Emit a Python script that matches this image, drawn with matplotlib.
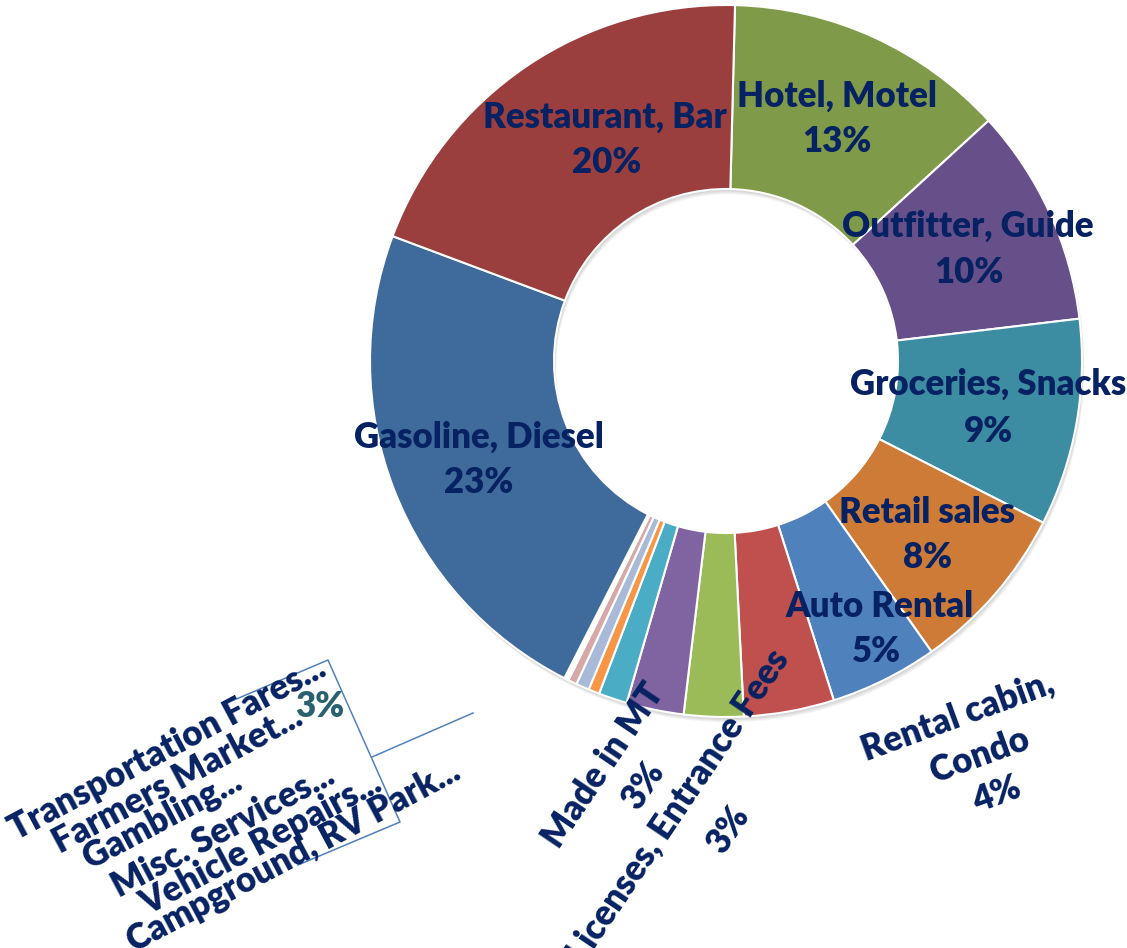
import matplotlib
matplotlib.use("Agg")
import matplotlib.pyplot as plt
from matplotlib.patches import Wedge
from matplotlib.lines import Line2D

# Spending shares by category, listed clockwise from the top of the ring
categories = [
    "Hotel, Motel", "Outfitter, Guide", "Groceries, Snacks", "Retail sales",
    "Auto Rental", "Rental cabin, Condo", "Licenses, Entrance Fees", "Made in MT",
    "Campground, RV Park", "Vehicle Repairs", "Misc. Services", "Gambling",
    "Farmers Market", "Transportation Fares", "Gasoline, Diesel", "Restaurant, Bar",
]
shares = [12.8, 9.9, 9.4, 7.7, 4.9, 4.1, 2.7, 2.6,
          1.3, 0.5, 0.6, 0.4, 0.1, 0.1, 23.2, 19.7]
colors = ["#7F9A48", "#67508A", "#3C8CA2", "#CD7B37", "#4F81BD", "#C0504D",
          "#9BBB59", "#8064A2", "#4BACC6", "#F79646", "#A9B9D8", "#D6A8A7",
          "#C3D69B", "#B3A2C7", "#3F6A9C", "#9B3F3E"]
small_group = ["Transportation Fares", "Farmers Market", "Gambling",
               "Misc. Services", "Vehicle Repairs", "Campground, RV Park"]

W, H = 1127, 948
fig = plt.figure(figsize=(W / 100, H / 100), dpi=100)
ax = fig.add_axes([0, 0, 1, 1])


def px(x, y):
    """Convert top-left pixel coordinates into data coordinates (y up)."""
    return (x, H - y)


cx, cy = px(726, 361)
R_OUT, R_IN = 356, 172

# soft drop shadow under the ring
for k in range(1, 7):
    ax.add_patch(Wedge((cx + 0.4 * k, cy - 0.9 * k), R_OUT, 0, 360,
                       width=R_OUT - R_IN, facecolor="black", alpha=0.035,
                       edgecolor="none", zorder=0))

ax.pie(shares, colors=colors, startangle=88.55, counterclock=False,
       radius=R_OUT, center=(cx, cy), frame=False,
       wedgeprops=dict(width=R_OUT - R_IN, edgecolor="white", linewidth=1.5,
                       zorder=1))

ax.set_xlim(0, W)
ax.set_ylim(0, H)
ax.set_aspect("equal")
ax.axis("off")

NAVY = "#062262"
FONT = dict(family="Lato", weight="heavy", fontsize=25, color=NAVY)
share = dict(zip(categories, shares))


def pct(v):
    return f"{v:.0f}%"


# horizontal labels: (category, name line, name baseline centre, pct baseline centre)
flat_labels = [
    ("Restaurant, Bar", "Restaurant, Bar", (605, 128), (607, 173)),
    ("Hotel, Motel", "Hotel, Motel", (837, 107), (837, 152)),
    ("Outfitter, Guide", "Outfitter, Guide", (968, 237), (969, 283)),
    ("Groceries, Snacks", "Groceries, Snacks", (988, 395), (988, 442)),
    ("Retail sales", "Retail sales", (927, 523), (927, 568)),
    ("Auto Rental", "Auto Rental", (880, 617), (876, 662)),
    ("Gasoline, Diesel", "Gasoline, Diesel", (479, 448), (479, 493)),
]
for cat, name, p_name, p_pct in flat_labels:
    ax.text(*px(*p_name), name, ha="center", va="baseline", **FONT, zorder=5)
    ax.text(*px(*p_pct), pct(share[cat]), ha="center", va="baseline", **FONT, zorder=5)

# rotated labels below the ring: (text, baseline centre, rotation)
rotated_lines = [
    ("Rental cabin,", (961, 726), 20),
    ("Condo", (983, 765), 20),
    (pct(share["Rental cabin, Condo"]), (1000, 805), 20),
    ("Made in MT", (612, 771), 56),
    (pct(share["Made in MT"]), (652, 792), 56),
    ("Licenses, Entrance Fees", (687, 812), 56),
    (pct(share["Licenses, Entrance Fees"]), (737, 836), 56),
]
for txt, p, rot in rotated_lines:
    ax.text(*px(*p), txt, ha="center", va="baseline", rotation=rot,
            rotation_mode="anchor", **FONT, zorder=5)

# overlapping labels of the smallest categories
small_pos = {
    "Transportation Fares": (172, 758),
    "Farmers Market": (183, 789),
    "Gambling": (167, 828),
    "Misc. Services": (228, 840),
    "Vehicle Repairs": (266, 853),
    "Campground, RV Park": (298, 865),
}
for name in small_group:
    ax.text(*px(*small_pos[name]), name + "...", ha="center", va="baseline",
            rotation=28, rotation_mode="anchor", **FONT, zorder=5)

small_total = sum(share[n] for n in small_group)
ax.text(*px(320, 717), pct(small_total), ha="center", va="baseline",
        family="Lato", weight="heavy", fontsize=25, color="#2A6170", zorder=6)

# label frame and leader line
frame = [(227, 703), (328, 660), (400, 822), (298, 865)]
ax.add_line(Line2D([p[0] for p in frame], [H - p[1] for p in frame],
                   color="#4F81BD", lw=1.1, zorder=4))
ax.add_line(Line2D([372, 473], [H - 757, H - 713], color="#4F81BD", lw=1.1, zorder=4))

fig.savefig("out.png", dpi=100)
